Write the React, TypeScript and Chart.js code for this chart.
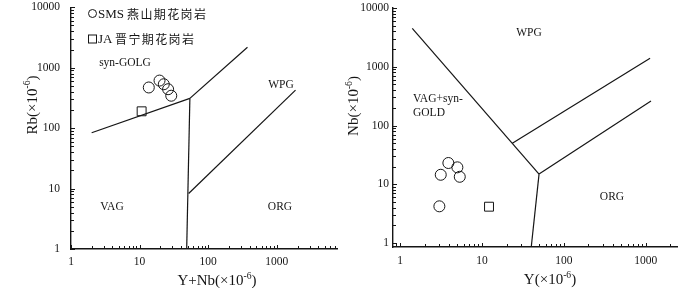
import React, { useEffect, useRef } from "react";
import { Chart, registerables } from "chart.js";

Chart.register(...registerables);

// ---------------- DATA ----------------
// Left diagram: Rb vs Y+Nb (ppm)
const leftSmsX = [13.6, 19.5, 22.5, 26.0, 28.9];
const leftSmsY = [471, 613, 533, 441, 344];
const leftJaX = [10.7];
const leftJaY = [190];
const leftLineVagColgX = [2.0, 54];
const leftLineVagColgY = [84, 311];
const leftLineColgWpgX = [54, 373];
const leftLineColgWpgY = [311, 2180];
const leftLineVagOrgX = [54, 48.5];
const leftLineVagOrgY = [311, 1];
const leftLineWpgOrgX = [51.8, 1870];
const leftLineWpgOrgY = [8.3, 425];
const leftXRange = [1, 7700];
const leftYRange = [1, 10000];

// Right diagram: Nb vs Y (ppm)
const rightSmsX = [3.89, 5.01, 3.14, 5.36, 3.02];
const rightSmsY = [23.0, 19.4, 14.5, 13.4, 4.21];
const rightJaX = [12.2];
const rightJaY = [4.15];
const rightLineVagWpgX = [1.41, 49.8];
const rightLineVagWpgY = [4510, 14.9];
const rightLineUpperX = [23.5, 1130];
const rightLineUpperY = [49.8, 1390];
const rightLineLowerX = [49.8, 1160];
const rightLineLowerY = [14.9, 261];
const rightLineVagOrgX = [49.8, 39.8];
const rightLineVagOrgY = [14.9, 0.8];
const rightXRange = [0.82, 2410];
const rightYRange = [0.855, 10000];

const decadeTicks = [1, 10, 100, 1000, 10000];

const legendSmsCode = "SMS";
const legendSmsName = "燕山期花岗岩";
const legendJaCode = "JA";
const legendJaName = "晋宁期花岗岩";

// ---------------- HELPERS ----------------
const SERIF = '"Liberation Serif", "Times New Roman", serif';
const CJK = '"Noto Sans CJK SC", "Liberation Serif", serif';
const INK = "#151515";

type Seg = { t: string; sup?: boolean };

function drawRich(ctx: CanvasRenderingContext2D, segs: Seg[], size: number, cx: number, cy: number, rotate: boolean) {
  ctx.save();
  ctx.translate(cx, cy);
  if (rotate) ctx.rotate(-Math.PI / 2);
  ctx.fillStyle = INK;
  ctx.textAlign = "left";
  ctx.textBaseline = "alphabetic";
  const supSize = size * 0.64;
  const widths = segs.map((s) => {
    ctx.font = `${s.sup ? supSize : size}px ${SERIF}`;
    return ctx.measureText(s.t).width;
  });
  const total = widths.reduce((a, b) => a + b, 0);
  let x = -total / 2;
  const base = size * 0.35;
  segs.forEach((s, i) => {
    ctx.font = `${s.sup ? supSize : size}px ${SERIF}`;
    ctx.fillText(s.t, x, s.sup ? base - size * 0.42 : base);
    x += widths[i];
  });
  ctx.restore();
}

function label(ctx: CanvasRenderingContext2D, t: string, x: number, y: number, size: number, align: CanvasTextAlign) {
  ctx.save();
  ctx.fillStyle = INK;
  ctx.font = `${size}px ${SERIF}`;
  ctx.textAlign = align;
  ctx.textBaseline = "middle";
  ctx.fillText(t, x, y);
  ctx.restore();
}

function logMinor(min: number, max: number) {
  const out: { v: number; major: boolean }[] = [];
  for (let d = -1; d <= 5; d++) {
    for (let k = 1; k <= 9; k++) {
      const v = k * Math.pow(10, d);
      if (v >= min * 0.999 && v <= max * 1.001) out.push({ v, major: k === 1 });
    }
  }
  return out;
}

function series(xs: number[], ys: number[]) {
  return xs.map((x, i) => ({ x, y: ys[i] }));
}

function lineDs(xs: number[], ys: number[]) {
  return {
    data: series(xs, ys),
    showLine: true,
    borderColor: INK,
    borderWidth: 1.2,
    pointRadius: 0,
    fill: false,
  };
}

function pointDs(xs: number[], ys: number[], style: string, r: number) {
  return {
    data: series(xs, ys),
    showLine: false,
    pointStyle: style,
    pointRadius: r,
    borderColor: INK,
    borderWidth: 1,
    backgroundColor: "rgba(0,0,0,0)",
  };
}

const tickPlugin = {
  id: "insideTicks",
  afterDraw(chart: any) {
    const ctx = chart.ctx as CanvasRenderingContext2D;
    const xs = chart.scales.x;
    const ys = chart.scales.y;
    const a = chart.chartArea;
    ctx.save();
    ctx.strokeStyle = INK;
    ctx.lineWidth = 1;
    ctx.beginPath();
    logMinor(xs.min, xs.max).forEach(({ v, major }) => {
      const px = Math.round(xs.getPixelForValue(v)) + 0.5;
      ctx.moveTo(px, a.bottom);
      ctx.lineTo(px, a.bottom - (major ? 4 : 3));
    });
    logMinor(ys.min, ys.max).forEach(({ v, major }) => {
      const py = Math.round(ys.getPixelForValue(v)) + 0.5;
      ctx.moveTo(a.left, py);
      ctx.lineTo(a.left + (major ? 4 : 3), py);
    });
    ctx.stroke();
    ctx.restore();
  },
};

function makeConfig(p: {
  datasets: any[];
  xRange: number[];
  yRange: number[];
  yWidth: number;
  xHeight: number;
  padding: any;
  yPad: number;
  xPad: number;
  decor: (ctx: CanvasRenderingContext2D) => void;
}) {
  return {
    type: "scatter",
    data: { datasets: p.datasets },
    options: {
      responsive: false,
      animation: false,
      events: [],
      layout: { padding: p.padding },
      plugins: { legend: { display: false }, tooltip: { enabled: false } },
      scales: {
        x: {
          type: "logarithmic",
          position: "bottom",
          min: p.xRange[0],
          max: p.xRange[1],
          grid: { display: false, drawTicks: false },
          border: { display: true, color: INK, width: 1.4 },
          ticks: {
            autoSkip: false,
            maxRotation: 0,
            padding: p.xPad,
            color: INK,
            font: { family: SERIF, size: 11.5 },
            callback: (v: any) => String(Number(v)),
          },
          afterBuildTicks: (s: any) => {
            s.ticks = decadeTicks.filter((v) => v >= s.min * 0.999 && v <= s.max * 1.001).map((v) => ({ value: v }));
          },
          afterFit: (s: any) => {
            s.height = p.xHeight;
            s.paddingLeft = 0;
            s.paddingRight = 0;
          },
        },
        y: {
          type: "logarithmic",
          position: "left",
          min: p.yRange[0],
          max: p.yRange[1],
          grid: { display: false, drawTicks: false },
          border: { display: true, color: INK, width: 1.4 },
          ticks: {
            autoSkip: false,
            padding: p.yPad,
            color: INK,
            font: { family: SERIF, size: 11.5 },
            callback: (v: any) => String(Number(v)),
          },
          afterBuildTicks: (s: any) => {
            s.ticks = decadeTicks.filter((v) => v >= s.min * 0.999 && v <= s.max * 1.001).map((v) => ({ value: v }));
          },
          afterFit: (s: any) => {
            s.width = p.yWidth;
            s.paddingTop = 0;
            s.paddingBottom = 0;
          },
        },
      },
    },
    plugins: [
      tickPlugin,
      {
        id: "decor",
        afterDraw(chart: any) {
          p.decor(chart.ctx);
        },
      },
    ],
  } as any;
}

function legendText(ctx: CanvasRenderingContext2D, code: string, name: string, x: number, nameX: number, y: number) {
  ctx.save();
  ctx.fillStyle = INK;
  ctx.textAlign = "left";
  ctx.textBaseline = "middle";
  ctx.font = `13px ${SERIF}`;
  ctx.fillText(code, x, y + 0.5);
  ctx.font = `12px ${CJK}`;
  (ctx as any).letterSpacing = "1.4px";
  ctx.fillText(name, nameX, y);
  ctx.restore();
}

function drawLeftDecor(ctx: CanvasRenderingContext2D) {
  // legend symbols
  ctx.save();
  ctx.strokeStyle = INK;
  ctx.lineWidth = 1;
  ctx.beginPath();
  ctx.arc(92.5, 13.5, 4, 0, Math.PI * 2);
  ctx.stroke();
  ctx.strokeRect(88.5, 35, 8, 8);
  ctx.restore();
  legendText(ctx, legendSmsCode, legendSmsName, 98, 127, 14);
  legendText(ctx, legendJaCode, legendJaName, 98, 115, 39.5);

  label(ctx, "syn-GOLG", 125, 63, 11.5, "center");
  label(ctx, "WPG", 281, 85, 11.5, "center");
  label(ctx, "VAG", 112, 207, 11.5, "center");
  label(ctx, "ORG", 280, 207, 11.5, "center");

  drawRich(ctx, [{ t: "Y+Nb(×10" }, { t: "-6", sup: true }, { t: ")" }], 15, 217, 280, false);
  drawRich(ctx, [{ t: "Rb(×10" }, { t: "-6", sup: true }, { t: ")" }], 15, 31.5, 105, true);
}

function drawRightDecor(ctx: CanvasRenderingContext2D) {
  label(ctx, "WPG", 184, 33, 11.5, "center");
  label(ctx, "VAG+syn-", 68, 99, 11.5, "left");
  label(ctx, "GOLD", 68, 113, 11.5, "left");
  label(ctx, "ORG", 267, 197, 11.5, "center");
  drawRich(ctx, [{ t: "Y(×10" }, { t: "-6", sup: true }, { t: ")" }], 15, 205, 279, false);
  drawRich(ctx, [{ t: "Nb(×10" }, { t: "-6", sup: true }, { t: ")" }], 15, 8, 106, true);
}

export default function App() {
  const leftRef = useRef<HTMLCanvasElement | null>(null);
  const rightRef = useRef<HTMLCanvasElement | null>(null);

  useEffect(() => {
    if (!leftRef.current || !rightRef.current) return;
    const left = new Chart(
      leftRef.current,
      makeConfig({
        datasets: [
          lineDs(leftLineVagColgX, leftLineVagColgY),
          lineDs(leftLineColgWpgX, leftLineColgWpgY),
          lineDs(leftLineVagOrgX, leftLineVagOrgY),
          lineDs(leftLineWpgOrgX, leftLineWpgOrgY),
          pointDs(leftSmsX, leftSmsY, "circle", 5.5),
          pointDs(leftJaX, leftJaY, "rect", 6.3),
        ],
        xRange: leftXRange,
        yRange: leftYRange,
        yWidth: 71,
        xHeight: 39,
        padding: { left: 0, top: 5, right: 2, bottom: 0 },
        yPad: 11,
        xPad: 6,
        decor: drawLeftDecor,
      })
    );
    const right = new Chart(
      rightRef.current,
      makeConfig({
        datasets: [
          lineDs(rightLineVagWpgX, rightLineVagWpgY),
          lineDs(rightLineUpperX, rightLineUpperY),
          lineDs(rightLineLowerX, rightLineLowerY),
          lineDs(rightLineVagOrgX, rightLineVagOrgY),
          pointDs(rightSmsX, rightSmsY, "circle", 5.5),
          pointDs(rightJaX, rightJaY, "rect", 6.3),
        ],
        xRange: rightXRange,
        yRange: rightYRange,
        yWidth: 48,
        xHeight: 41,
        padding: { left: 0, top: 8, right: 23, bottom: 0 },
        yPad: 4,
        xPad: 7,
        decor: drawRightDecor,
      })
    );
    return () => {
      left.destroy();
      right.destroy();
    };
  }, []);

  return (
    <div style={{ position: "absolute", left: 0, top: 0, width: 700, height: 288, background: "#fff", overflow: "hidden" }}>
      <canvas ref={leftRef} width={345} height={288} style={{ position: "absolute", left: 0, top: 0 }} />
      <canvas ref={rightRef} width={355} height={288} style={{ position: "absolute", left: 345, top: 0 }} />
    </div>
  );
}
